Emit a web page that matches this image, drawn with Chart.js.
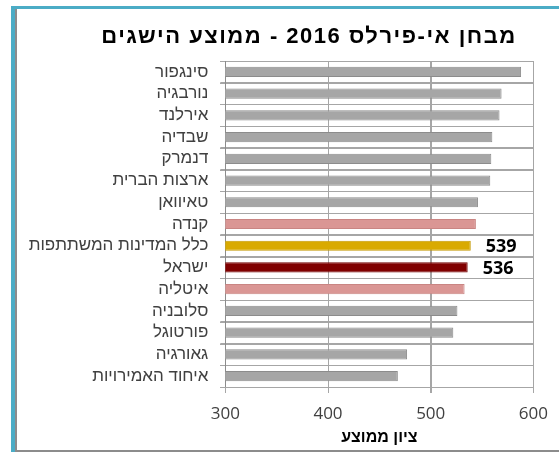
<!DOCTYPE html>
<html>
<head>
<meta charset="utf-8">
<script src="https://cdn.jsdelivr.net/npm/chart.js@4.4.0/dist/chart.umd.min.js"></script>
<style>
  html, body { margin: 0; padding: 0; background: #fff; }
  #wrap { position: relative; width: 559px; height: 452px; }
  #frame {
    position: absolute; left: 11px; top: 6px; right: 0; bottom: 0;
    border-top: 3px solid #4bacc6; border-left: 4px solid #4bacc6;
  }
  #inner {
    position: absolute; left: 0; top: 0; right: 0; bottom: 0;
    border-left: 2px solid #8c8c8c; border-bottom: 2px solid #8c8c8c;
  }
  canvas { position: absolute; left: 0; top: 0; }
</style>
</head>
<body>
<div id="wrap">
  <div id="frame"><div id="inner"></div></div>
  <canvas id="epirlsChart" width="559" height="452"></canvas>
</div>
<script>
// ePIRLS 2016 - average scores
const countries = [
  'סינגפור',
  'נורבגיה',
  'אירלנד',
  'שבדיה',
  'דנמרק',
  'ארצות הברית',
  'טאיוואן',
  'קנדה',
  'כלל המדינות המשתתפות',
  'ישראל',
  'איטליה',
  'סלובניה',
  'פורטוגל',
  'גאורגיה',
  'איחוד האמירויות'
];
const scores = [588, 569, 567, 560, 559, 558, 546, 544, 539, 536, 533, 526, 522, 477, 468];
const barColors = [
  '#a6a6a6', '#a6a6a6', '#a6a6a6', '#a6a6a6', '#a6a6a6', '#a6a6a6', '#a6a6a6',
  '#da9694', '#d9aa00', '#800000', '#da9694',
  '#a6a6a6', '#a6a6a6', '#a6a6a6', '#a6a6a6'
];
const borderColors = [
  '#8c8c8c', '#8c8c8c', '#8c8c8c', '#8c8c8c', '#8c8c8c', '#8c8c8c', '#8c8c8c',
  '#c98583', '#c49900', '#700000', '#c98583',
  '#8c8c8c', '#8c8c8c', '#8c8c8c', '#8c8c8c'
];
const labeledRows = ['כלל המדינות המשתתפות', 'ישראל'];
const xTicks = [300, 400, 500, 600];
const chartTitle = 'מבחן אי-פירלס 2016 - ממוצע הישגים';

const HEB = '"Liberation Sans", Arial, "DejaVu Sans", sans-serif';
const NUM = '"Open Sans", "Noto Sans", sans-serif';
const GRID = '#a6a6a6';

// grid lines filled as 1px rects, placed from the chart's own scales
const gridPlugin = {
  id: 'rectGrid',
  beforeDatasetsDraw(chart) {
    const ctx = chart.ctx;
    const xs = chart.scales.x;
    const ys = chart.scales.y;
    const a = chart.chartArea;
    ctx.save();
    ctx.fillStyle = GRID;
    xTicks.forEach(v => {
      const px = Math.round(xs.getPixelForValue(v));
      ctx.fillRect(px, Math.round(a.top), 1, Math.round(a.bottom - a.top) + 6);
    });
    for (let i = 0; i <= countries.length; i++) {
      const py = Math.round(ys.getPixelForValue(i - 0.5));
      ctx.fillRect(Math.round(a.left) - 5, py, Math.round(a.right - a.left) + 6, 1);
    }
    ctx.fillStyle = '#8c8c8c';
    ctx.fillRect(Math.round(a.left), Math.round(a.top), 1, Math.round(a.bottom - a.top));
    ctx.restore();
  }
};

// title drawn by hand: Excel centres it a bit right of the canvas middle
const titlePlugin = {
  id: 'hebTitle',
  afterDraw(chart) {
    const ctx = chart.ctx;
    ctx.save();
    ctx.font = 'bold 22px ' + HEB;
    ctx.letterSpacing = '1.5px';
    ctx.fillStyle = '#000000';
    ctx.textAlign = 'center';
    ctx.textBaseline = 'middle';
    ctx.fillText(chartTitle, 309, 37);
    ctx.restore();
  }
};

// value labels next to chosen bars
const valueLabelPlugin = {
  id: 'valueLabels',
  afterDatasetsDraw(chart) {
    const ctx = chart.ctx;
    const meta = chart.getDatasetMeta(0);
    ctx.save();
    ctx.font = 'bold 18px ' + NUM;
    ctx.fillStyle = '#000000';
    ctx.textAlign = 'left';
    ctx.textBaseline = 'middle';
    countries.forEach((c, i) => {
      if (labeledRows.includes(c)) {
        const bar = meta.data[i];
        ctx.fillText(String(scores[i]), bar.x + 15, bar.y + 1);
      }
    });
    ctx.restore();
  }
};

const config = {
  type: 'bar',
  data: {
    labels: countries,
    datasets: [{
      data: scores,
      backgroundColor: barColors,
      borderColor: borderColors,
      borderWidth: 1,
      barPercentage: 0.47,
      categoryPercentage: 1
    }]
  },
  options: {
    indexAxis: 'y',
    responsive: false,
    animation: false,
    layout: { padding: { left: 20, right: 21, top: 61, bottom: 0 } },
    plugins: {
      legend: { display: false },
      tooltip: { enabled: false },
      title: { display: false }
    },
    scales: {
      x: {
        min: 300,
        max: 600,
        afterBuildTicks(scale) {
          scale.ticks = xTicks.map(v => ({ value: v }));
        },
        afterFit(scale) { scale.height = 65; },
        grid: { color: GRID, tickLength: 6, lineWidth: 1 },
        border: { display: false },
        ticks: { color: '#404040', font: { family: NUM, size: 17 }, padding: 11 },
        title: {
          display: true,
          text: 'ציון ממוצע',
          color: '#000000',
          font: { family: HEB, size: 16, weight: 'bold', lineHeight: 1.2 },
          padding: { top: 0, bottom: 5 }
        }
      },
      y: {
        afterFit(scale) { scale.width = 205.3; },
        grid: { color: GRID, tickLength: 5, offset: true, lineWidth: 1 },
        border: { display: true, color: '#8c8c8c' },
        ticks: { color: '#404040', font: { family: HEB, size: 17 }, padding: 12, autoSkip: false }
      }
    }
  },
  plugins: [gridPlugin, titlePlugin, valueLabelPlugin]
};

const epirlsChart = new Chart(document.getElementById('epirlsChart'), config);
</script>
</body>
</html>
